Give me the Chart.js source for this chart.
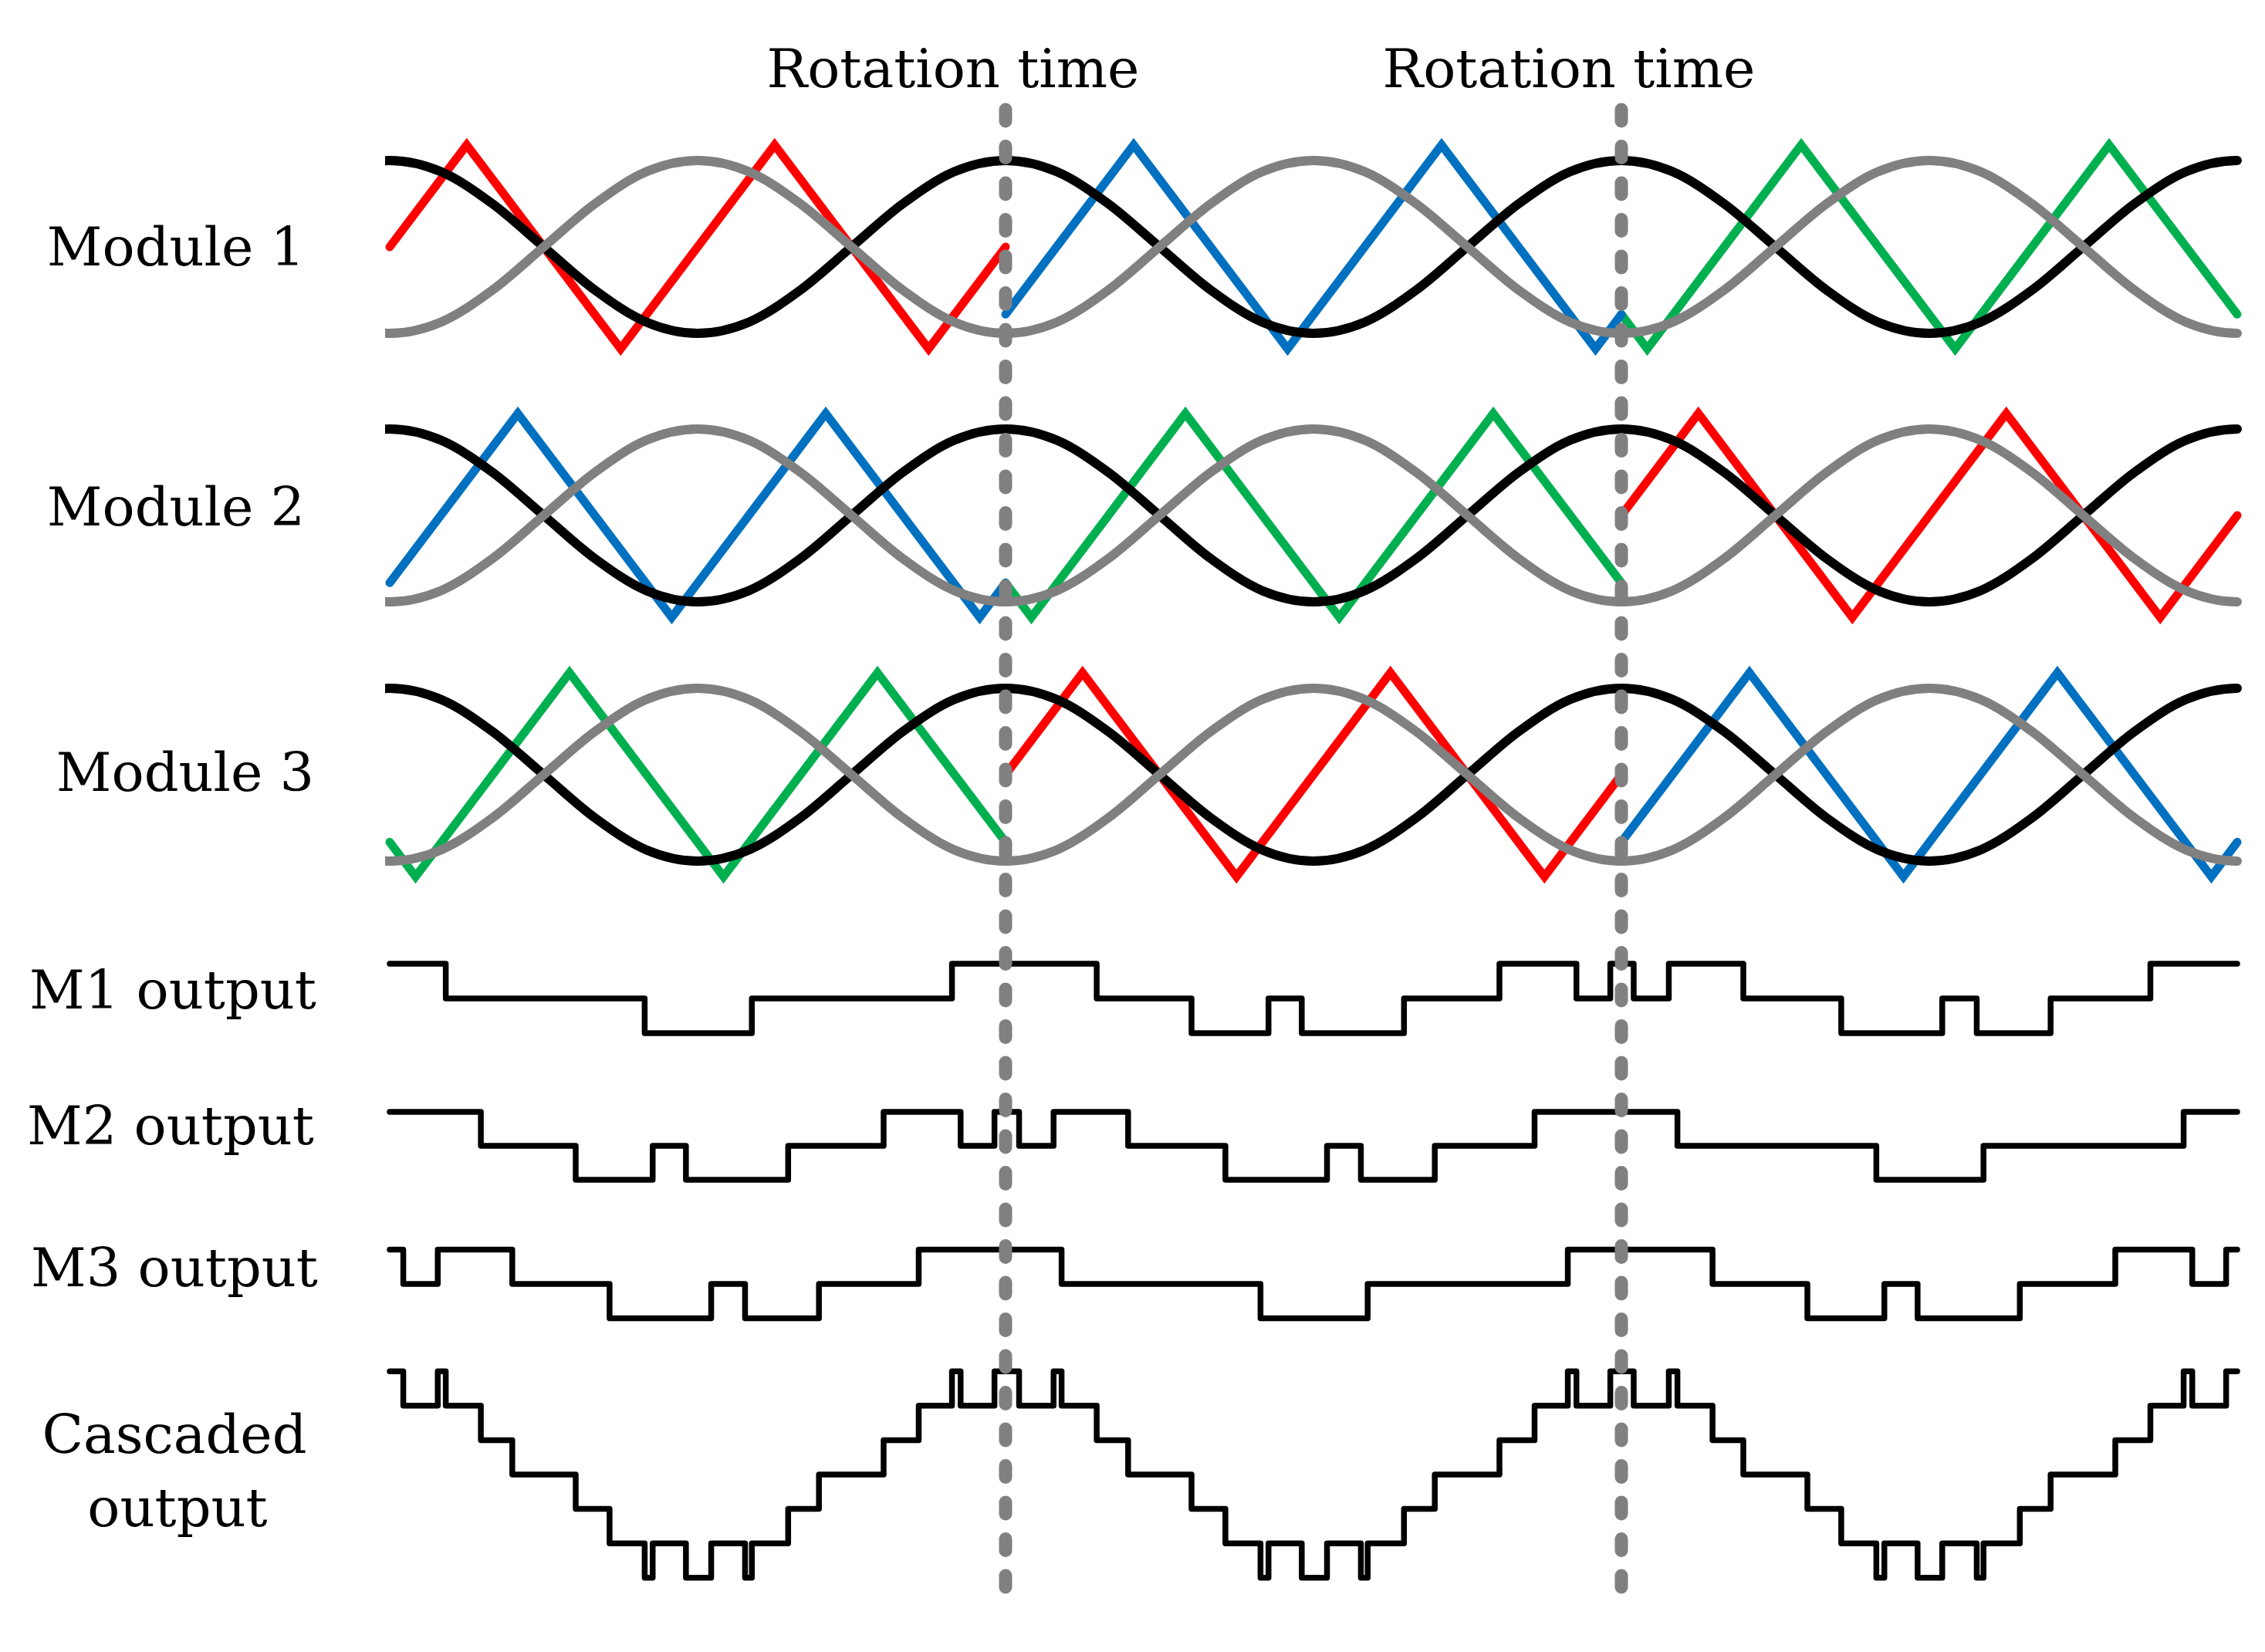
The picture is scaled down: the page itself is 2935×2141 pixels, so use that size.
<!DOCTYPE html>
<html>
<head>
<meta charset="utf-8">
<script src="https://cdn.jsdelivr.net/npm/chart.js@4.4.1/dist/chart.umd.min.js"></script>
<style>
  html, body { margin: 0; padding: 0; background: #ffffff; }
  canvas { display: block; }
</style>
</head>
<body>
<canvas id="c" width="2935" height="2141"></canvas>
<script>
// ---------------- DATA (time in fundamental periods, 0..3) ----------------
const rotationTimes = [1, 2];
const rotationLabel = 'Rotation time';
const rowLabels = ['Module 1', 'Module 2', 'Module 3', 'M1 output', 'M2 output', 'M3 output', 'Cascaded', 'output'];

// reference sinusoids (sampled every 1/12 period; one extra sample beyond each edge, clipped)
const sineT = [-0.0833,
               0, 0.0833, 0.1667, 0.25, 0.3333, 0.4167, 0.5, 0.5833, 0.6667, 0.75, 0.8333, 0.9167,
               1, 1.0833, 1.1667, 1.25, 1.3333, 1.4167, 1.5, 1.5833, 1.6667, 1.75, 1.8333, 1.9167,
               2, 2.0833, 2.1667, 2.25, 2.3333, 2.4167, 2.5, 2.5833, 2.6667, 2.75, 2.8333, 2.9167, 3,
               3.0833];
const refBlack = [0.87,
                  1, 0.87, 0.5, 0, -0.5, -0.87, -1, -0.87, -0.5, 0, 0.5, 0.87,
                  1, 0.87, 0.5, 0, -0.5, -0.87, -1, -0.87, -0.5, 0, 0.5, 0.87,
                  1, 0.87, 0.5, 0, -0.5, -0.87, -1, -0.87, -0.5, 0, 0.5, 0.87, 1,
                  0.87];
const refGray  = [-0.87,
                  -1, -0.87, -0.5, 0, 0.5, 0.87, 1, 0.87, 0.5, 0, -0.5, -0.87,
                  -1, -0.87, -0.5, 0, 0.5, 0.87, 1, 0.87, 0.5, 0, -0.5, -0.87,
                  -1, -0.87, -0.5, 0, 0.5, 0.87, 1, 0.87, 0.5, 0, -0.5, -0.87, -1,
                  -0.87];

// triangular carriers: vertices (time, value)
const m1RedT   = [0, 0.125, 0.375, 0.625, 0.875, 1];
const m1RedV   = [0, 1.18, -1.18, 1.18, -1.18, 0];
const m1BlueT  = [1, 1.208, 1.458, 1.708, 1.958, 2];
const m1BlueV  = [-0.78, 1.18, -1.18, 1.18, -1.18, -0.78];
const m1GreenT = [2, 2.042, 2.292, 2.542, 2.792, 3];
const m1GreenV = [-0.78, -1.18, 1.18, -1.18, 1.18, -0.78];

const m2BlueT  = [0, 0.208, 0.458, 0.708, 0.958, 1];
const m2BlueV  = [-0.78, 1.18, -1.18, 1.18, -1.18, -0.78];
const m2GreenT = [1, 1.042, 1.292, 1.542, 1.792, 2];
const m2GreenV = [-0.78, -1.18, 1.18, -1.18, 1.18, -0.78];
const m2RedT   = [2, 2.125, 2.375, 2.625, 2.875, 3];
const m2RedV   = [0, 1.18, -1.18, 1.18, -1.18, 0];

const m3GreenT = [0, 0.042, 0.292, 0.542, 0.792, 1];
const m3GreenV = [-0.78, -1.18, 1.18, -1.18, 1.18, -0.78];
const m3RedT   = [1, 1.125, 1.375, 1.625, 1.875, 2];
const m3RedV   = [0, 1.18, -1.18, 1.18, -1.18, 0];
const m3BlueT  = [2, 2.208, 2.458, 2.708, 2.958, 3];
const m3BlueV  = [-0.78, 1.18, -1.18, 1.18, -1.18, -0.78];

// module outputs: switching instant and new level (+1 / 0 / -1)
const out1T = [0, 0.091, 0.414, 0.588, 0.913, 1.148, 1.302, 1.427, 1.481, 1.647, 1.802, 1.927, 1.982,
               2.020, 2.077, 2.198, 2.357, 2.521, 2.577, 2.697, 2.859, 3];
const out1V = [1, 0, -1, 0, 1, 0, -1, 0, -1, 0, 1, 0, 1, 0, 1, 0, -1, 0, -1, 0, 1, 1];
const out2T = [0, 0.148, 0.302, 0.427, 0.481, 0.647, 0.802, 0.927, 0.982, 1.022, 1.078, 1.199, 1.357,
               1.522, 1.577, 1.697, 1.859, 2.091, 2.414, 2.588, 2.913, 3];
const out2V = [1, 0, -1, 0, -1, 0, 1, 0, 1, 0, 1, 0, -1, 0, -1, 0, 1, 0, -1, 0, 1, 1];
const out3T = [0, 0.022, 0.078, 0.199, 0.357, 0.522, 0.577, 0.697, 0.859, 1.091, 1.414, 1.588, 1.913,
               2.148, 2.302, 2.427, 2.481, 2.647, 2.802, 2.927, 2.982, 3];
const out3V = [1, 0, 1, 0, -1, 0, -1, 0, 1, 0, -1, 0, 1, 0, -1, 0, -1, 0, 1, 0, 1, 1];

// cascaded output (7 levels)
const cascT = [0, 0.022, 0.078, 0.091, 0.148, 0.199, 0.302, 0.357, 0.414, 0.427, 0.481, 0.522, 0.577, 0.588,
               0.647, 0.697, 0.802, 0.859, 0.913, 0.927, 0.982,
               1.022, 1.078, 1.091, 1.148, 1.199, 1.302, 1.357, 1.414, 1.427, 1.481, 1.522, 1.577, 1.588,
               1.647, 1.697, 1.802, 1.859, 1.913, 1.927, 1.982,
               2.020, 2.077, 2.091, 2.148, 2.198, 2.302, 2.357, 2.414, 2.427, 2.481, 2.521, 2.577, 2.588,
               2.647, 2.697, 2.802, 2.859, 2.913, 2.927, 2.982, 3];
const cascV = [3, 2, 3, 2, 1, 0, -1, -2, -3, -2, -3, -2, -3, -2, -1, 0, 1, 2, 3, 2, 3,
               2, 3, 2, 1, 0, -1, -2, -3, -2, -3, -2, -3, -2, -1, 0, 1, 2, 3, 2, 3,
               2, 3, 2, 1, 0, -1, -2, -3, -2, -3, -2, -3, -2, -1, 0, 1, 2, 3, 2, 3, 3];

// ---------------- LAYOUT / STYLE ----------------
const W = 2935, H = 2141;
const PLOT_LEFT = 505, PLOT_RIGHT = 2899;
// pixel centre and pixels-per-unit of each band
const bands = {
  ym1: { c: 320,  s: 112 },
  ym2: { c: 668,  s: 112 },
  ym3: { c: 1004, s: 112 },
  yo1: { c: 1294, s: 45 },
  yo2: { c: 1485, s: 44 },
  yo3: { c: 1664, s: 44.5 },
  yc:  { c: 1911, s: 44.6 }
};
const COL = { red: '#ff0000', blue: '#0070c0', green: '#00b050', black: '#000000', gray: '#808080' };

const pts = (ts, vs) => ts.map((t, i) => ({ x: t, y: vs[i] }));

function curve(ts, vs, axis, color, order) {
  return { data: pts(ts, vs), yAxisID: axis, borderColor: color, borderWidth: 12,
           cubicInterpolationMode: 'monotone', borderCapStyle: 'round', borderJoinStyle: 'round',
           pointRadius: 0, fill: false, clip: { left: 6, right: 6, top: false, bottom: false }, order: order };
}
function carrier(ts, vs, axis, color) {
  return { data: pts(ts, vs), yAxisID: axis, borderColor: color, borderWidth: 11,
           tension: 0, borderCapStyle: 'round', borderJoinStyle: 'miter',
           pointRadius: 0, fill: false, clip: false, order: 3 };
}
function steps(ts, vs, axis) {
  return { data: pts(ts, vs), yAxisID: axis, borderColor: COL.black, borderWidth: 7.5,
           stepped: 'before', borderCapStyle: 'round', borderJoinStyle: 'round',
           pointRadius: 0, fill: false, clip: false, order: 4 };
}

const datasets = [];
['ym1', 'ym2', 'ym3'].forEach(ax => {
  datasets.push(curve(sineT, refGray, ax, COL.gray, 1));
  datasets.push(curve(sineT, refBlack, ax, COL.black, 2));
});
datasets.push(carrier(m1RedT, m1RedV, 'ym1', COL.red));
datasets.push(carrier(m1BlueT, m1BlueV, 'ym1', COL.blue));
datasets.push(carrier(m1GreenT, m1GreenV, 'ym1', COL.green));
datasets.push(carrier(m2BlueT, m2BlueV, 'ym2', COL.blue));
datasets.push(carrier(m2GreenT, m2GreenV, 'ym2', COL.green));
datasets.push(carrier(m2RedT, m2RedV, 'ym2', COL.red));
datasets.push(carrier(m3GreenT, m3GreenV, 'ym3', COL.green));
datasets.push(carrier(m3RedT, m3RedV, 'ym3', COL.red));
datasets.push(carrier(m3BlueT, m3BlueV, 'ym3', COL.blue));
datasets.push(steps(out1T, out1V, 'yo1'));
datasets.push(steps(out2T, out2V, 'yo2'));
datasets.push(steps(out3T, out3V, 'yo3'));
datasets.push(steps(cascT, cascV, 'yc'));

const scales = { x: { type: 'linear', min: 0, max: 3, display: false } };
Object.keys(bands).forEach(k => {
  const b = bands[k];
  scales[k] = { type: 'linear', display: false, min: (b.c - H) / b.s, max: b.c / b.s };
});

const FONT = '70px "DejaVu Serif"';
const labelPos = [
  { cx: 228, y: 344 }, { cx: 228, y: 681 }, { cx: 240, y: 1025 },
  { cx: 224, y: 1307 }, { cx: 221, y: 1483 }, { cx: 226, y: 1667 },
  { cx: 226, y: 1883 }, { cx: 230, y: 1978 }
];

const overlay = {
  id: 'overlay',
  afterDatasetsDraw(chart) {
    const ctx = chart.ctx;
    const xs = chart.scales.x;
    ctx.save();
    ctx.strokeStyle = COL.gray;
    ctx.lineWidth = 17;
    ctx.lineCap = 'round';
    ctx.setLineDash([15, 32.5]);
    rotationTimes.forEach(t => {
      const x = xs.getPixelForValue(t);
      ctx.beginPath();
      ctx.moveTo(x, 142);
      ctx.lineTo(x, 2064);
      ctx.stroke();
    });
    ctx.restore();
  },
  afterDraw(chart) {
    const ctx = chart.ctx;
    const xs = chart.scales.x;
    ctx.save();
    ctx.fillStyle = '#000';
    ctx.font = FONT;
    ctx.textAlign = 'center';
    ctx.textBaseline = 'alphabetic';
    rowLabels.forEach((lbl, i) => ctx.fillText(lbl, labelPos[i].cx, labelPos[i].y));
    rotationTimes.forEach(t => {
      ctx.fillText(rotationLabel, xs.getPixelForValue(t) - 68, 113);
    });
    ctx.restore();
  }
};

new Chart(document.getElementById('c'), {
  type: 'line',
  data: { datasets },
  options: {
    responsive: false,
    animation: false,
    devicePixelRatio: 1,
    parsing: false,
    normalized: true,
    layout: { padding: { left: PLOT_LEFT, right: W - PLOT_RIGHT, top: 0, bottom: 0 } },
    scales,
    plugins: { legend: { display: false }, tooltip: { enabled: false } },
    elements: { point: { radius: 0 } }
  },
  plugins: [overlay]
});
</script>
</body>
</html>
